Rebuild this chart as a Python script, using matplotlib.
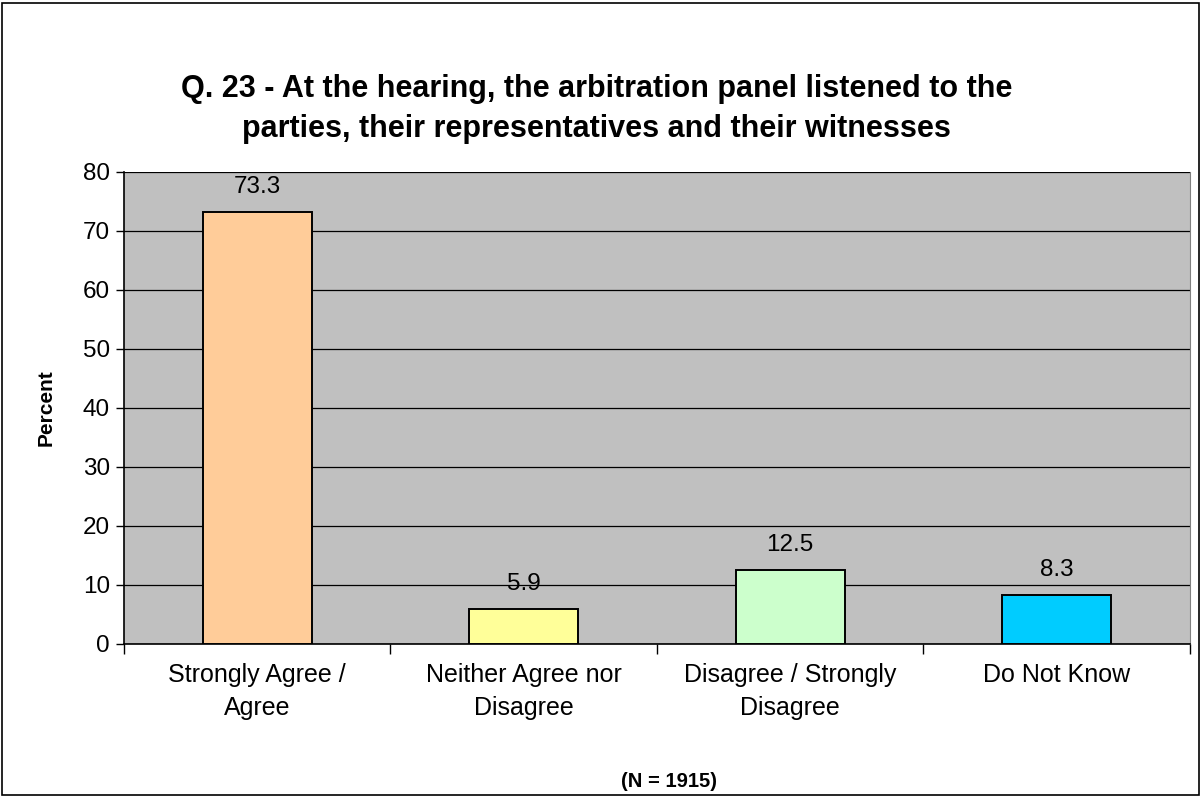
import matplotlib.pyplot as plt
from matplotlib.patches import Rectangle
import numpy as np

plt.rcParams['font.family'] = ['Liberation Sans', 'DejaVu Sans']

categories = ["Strongly Agree /\nAgree", "Neither Agree nor\nDisagree",
              "Disagree / Strongly\nDisagree", "Do Not Know"]
values = [73.3, 5.9, 12.5, 8.3]
colors = ["#FFCC99", "#FFFF99", "#CCFFCC", "#00CCFF"]
yticks = [0, 10, 20, 30, 40, 50, 60, 70, 80]

fig = plt.figure(figsize=(12.01, 7.97), dpi=100)
ax = fig.add_axes([0.1032, 0.192, 0.8876, 0.5922])
ax.set_facecolor("#C0C0C0")

x = np.arange(len(categories))
bars = ax.bar(x, values, width=0.41, color=colors, edgecolor="black", linewidth=1.4, zorder=3)
for xi, v in zip(x, values):
    ax.annotate(f"{v:.1f}", (xi, v), xytext=(0, 10), textcoords="offset points",
                ha="center", va="bottom", fontsize=17.5)

ax.set_xlim(-0.5, len(categories) - 0.5)
ax.set_ylim(0, 80)
ax.set_yticks(yticks)
ax.yaxis.grid(True, color="black", linewidth=0.9, zorder=1)
ax.tick_params(axis="y", labelsize=17.5, length=6, width=1, direction="out", pad=4)

# category labels between boundary ticks
ax.set_xticks(np.arange(-0.5, len(categories), 1.0))
ax.set_xticklabels([])
ax.tick_params(axis="x", length=7, width=1, direction="out")
ax.set_xticks(x, minor=True)
ax.set_xticklabels(categories, minor=True, fontsize=18, linespacing=1.45)
ax.tick_params(axis="x", which="minor", length=0, pad=14)

ax.spines["top"].set_visible(False)
ax.spines["right"].set_color("#808080")
ax.spines["left"].set_linewidth(1.2)
ax.spines["bottom"].set_linewidth(1.2)

ax.set_ylabel("Percent", fontsize=15, fontweight="bold", labelpad=20)
fig.text(0.557, 0.019, "(N = 1915)", ha="center", va="center", fontsize=14.5, fontweight="bold")
fig.text(0.497, 0.8635, "Q. 23 - At the hearing, the arbitration panel listened to the\nparties, their representatives and their witnesses",
         ha="center", va="center", fontsize=22, fontweight="bold", linespacing=1.45)

fig.patches.append(Rectangle((0.002, 0.002), 0.996, 0.994, transform=fig.transFigure,
                             fill=False, edgecolor="black", linewidth=1.2))

fig.savefig("out.png", dpi=100)
